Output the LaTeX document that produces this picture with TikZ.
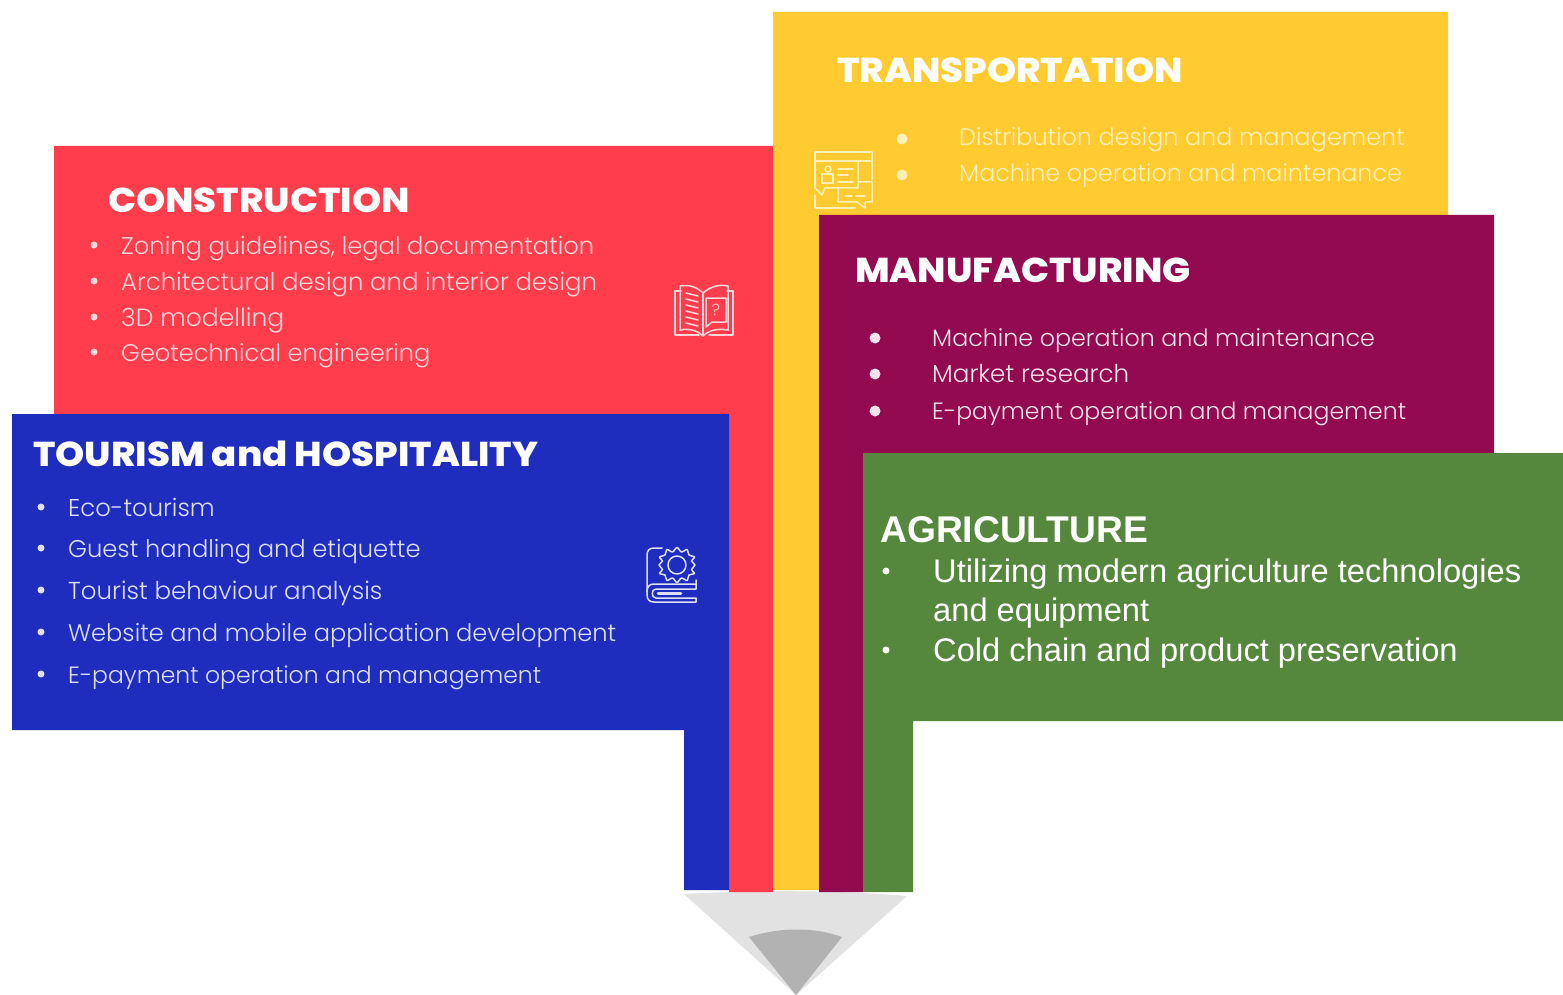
\documentclass[tikz,border=0pt]{standalone}
\usepackage{fontspec}
\setmainfont{Poppins}
\newfontfamily\bodyf{Poppins Light}
\newfontfamily\titlef{Poppins ExtraBold}[FakeStretch=1.075]
\newfontfamily\arialf{Liberation Sans}
\usetikzlibrary{calc}
\definecolor{cblue}{HTML}{1E2DBE}
\definecolor{cred}{HTML}{FF3D4D}
\definecolor{cyel}{HTML}{FFCB30}
\definecolor{cpur}{HTML}{930A50}
\definecolor{cgrn}{HTML}{55883D}
\definecolor{ctipa}{HTML}{E2E2E2}
\definecolor{ctipb}{HTML}{B2B2B2}
\definecolor{tred}{HTML}{FFD5D8}
\definecolor{tyel}{HTML}{FFF0B8}
\definecolor{tpur}{HTML}{F5E3EC}
\definecolor{tblu}{HTML}{DDE0F8}
\tikzset{
  x=1pt,y=-1pt,
  titletxt/.style={anchor=base west,inner sep=0pt,text=white,font=\titlef\fontsize{34.5}{34.5}\selectfont},
  bodytxt/.style={anchor=base west,inner sep=0pt},
  agrtxt/.style={anchor=base west,inner sep=0pt,text=white,font=\arialf\fontsize{32.65}{32.65}\selectfont},
  icon/.style={line width=1.5pt,line join=round,line cap=round}
}
\begin{document}
\begin{tikzpicture}
\useasboundingbox (0,0) rectangle (1563,995);
\fill[white] (0,0) rectangle (1563,995);
% tip
\fill[ctipa] (684,894) .. controls (760,890) and (835,890) .. (907,896) -- (796,995) -- cycle;
\fill[ctipb] (749,937) .. controls (780,927) and (815,927) .. (842,937) -- (796,995) -- cycle;
% bands
\fill[cred] (54,146) -- (773,146) -- (773,892) -- (729,892) -- (729,414) -- (54,414) -- cycle;
\fill[cyel] (773,12) -- (1448,12) -- (1448,215) -- (819,215) -- (819,890) -- (773,890) -- cycle;
\fill[cpur] (819,215) -- (1494,215) -- (1494,453) -- (863,453) -- (863,892) -- (819,892) -- cycle;
\fill[cblue] (12,414) -- (729,414) -- (729,890) -- (684,890) -- (684,730) -- (12,730) -- cycle;
\fill[cgrn] (863,453) -- (1563,453) -- (1563,721) -- (913,721) -- (913,892) -- (863,892) -- cycle;
% transportation
\node[titletxt] (tT) at (837,83) {TRANSPORTATION};
\foreach \y/\s/\t/\n in {147/23.9/Distribution design and management/a,183/23.8/Machine operation and maintenance/b}{
  \fill[tyel] (902,\y-8) circle (5.5);
  \node[bodytxt,text=tyel,font=\bodyf\fontsize{\s}{\s}\selectfont] (tr\n) at (959,\y-1) {\t};
}
% construction
\node[titletxt] (tC) at (108,212) {CONSTRUCTION};
\foreach \y/\s/\t/\n in {255/24.2/{Zoning guidelines, legal documentation}/a,291/24.35/Architectural design and interior design/b,327/25/3D modelling/c,362/24.05/Geotechnical engineering/d}{
  \fill[tred] (94,\y-10) circle (3.5);
  \node[bodytxt,text=tred,font=\bodyf\fontsize{\s}{\s}\selectfont] (co\n) at (121,\y-1) {\t};
}
% manufacturing
\node[titletxt] (tM) at (855,282) {MANUFACTURING};
\foreach \y/\s/\t/\n in {347/23.8/Machine operation and maintenance/a,383/24.6/Market research/b,420/23.55/E-payment operation and management/c}{
  \fill[tpur] (875,\y-9) circle (5.5);
  \node[bodytxt,text=tpur,font=\bodyf\fontsize{\s}{\s}\selectfont] (ma\n) at (932,\y-1) {\t};
}
% tourism
\node[titletxt] (tH) at (33,466) {TOURISM and HOSPITALITY};
\foreach \y/\s/\t/\n in {517/24.3/Eco-tourism/a,558/24.2/Guest handling and etiquette/b,600/24.5/Tourist behaviour analysis/c,642/24.1/Website and mobile application development/d,684/23.5/E-payment operation and management/e}{
  \fill[tblu] (41,\y-10) circle (3.5);
  \node[bodytxt,text=tblu,font=\bodyf\fontsize{\s}{\s}\selectfont] (to\n) at (68,\y-1) {\t};
}
% agriculture
\node[agrtxt,font=\arialf\bfseries\fontsize{37.2}{37.2}\selectfont] (tA) at (880,542) {AGRICULTURE};
\foreach \y in {571,650}{\fill[white] (886,\y) circle (3.5);}
\node[agrtxt] (ag1) at (933,582) {Utilizing modern agriculture technologies};
\node[agrtxt] (ag2) at (933,621) {and equipment};
\node[agrtxt] (ag3) at (933,661) {Cold chain and product preservation};
% book icon
\begin{scope}[icon,draw=tred]
\draw (681,291) -- (675,291) -- (675,335) -- (699,335);
\draw (709,335) -- (733,335) -- (733,291) -- (727,291);
\draw (680,330) -- (680,286) .. controls (690,284) and (698,288) .. (703,293) .. controls (710,287) and (718,284) .. (728,286) -- (728,330);
\draw (680,330) .. controls (690,328) and (698,331) .. (703,336) .. controls (708,331) and (716,328) .. (728,330);
\draw (703,293) -- (703,336);
\draw (686,293)--(698,296) (686,299)--(698,302) (686,305)--(698,308) (686,311)--(698,314) (686,317)--(698,320) (686,323)--(698,326);
\draw (706,298) -- (726,298) -- (726,322) -- (712,322) -- (706,327) -- cycle;
\node[inner sep=0pt,text=tred,font=\bodyf\fontsize{16}{16}\selectfont] (q) at (716,310) {?};
\end{scope}
% chat icon
\begin{scope}[icon,draw=tyel]
\draw (815,188) -- (815,152) -- (872,152) -- (872,180);
\draw (815,161) -- (872,161);
\draw (858,161) -- (858,188) -- (825,188) -- (822,195) -- (815,188);
\draw (815,195) -- (815,208) -- (855,208);
\draw (838,188) -- (838,202) -- (857,202) -- (865,208) -- (865,202) -- (872,202) -- (872,182) -- (858,182);
\draw (828,169) circle (3);
\draw (822,183) -- (822,174) -- (833,174) -- (833,183) -- cycle;
\draw (838,169)--(853,169) (838,175)--(848,175) (838,182)--(853,182);
\draw (845,196)--(852,196) (856,196)--(865,196);
\end{scope}
% gear book icon
\begin{scope}[icon,draw=tblu]
\draw (662,548) -- (654,548) .. controls (649,548) and (647,551) .. (647,555) -- (647,595) .. controls (647,600) and (650,602) .. (654,602) -- (696,602) -- (696,598) -- (656,598) .. controls (651,598) and (651,589) .. (656,589) -- (696,589) -- (696,580);
\draw (647,592) .. controls (647,586) and (650,584) .. (654,584) -- (696,584);
\draw[line width=2.5pt] (658,593.5) -- (681,593.5);
\draw (677,565) circle (9);
\draw plot[smooth cycle,tension=0.55] coordinates {
 (677,547.5) (681.5,552) (687,549.5) (689,555) (694.5,557) (691.5,561) (695,565) (691.5,569.5) (694.5,573.5) (689,575) (687,580.5) (681.5,578) (677,582.5) (672.5,578) (667,580.5) (665,575) (659.5,573.5) (662.5,569.5) (659,565) (662.5,561) (659.5,557) (665,555) (667,549.5) (672.5,552)};
\end{scope}
\end{tikzpicture}
\end{document}
